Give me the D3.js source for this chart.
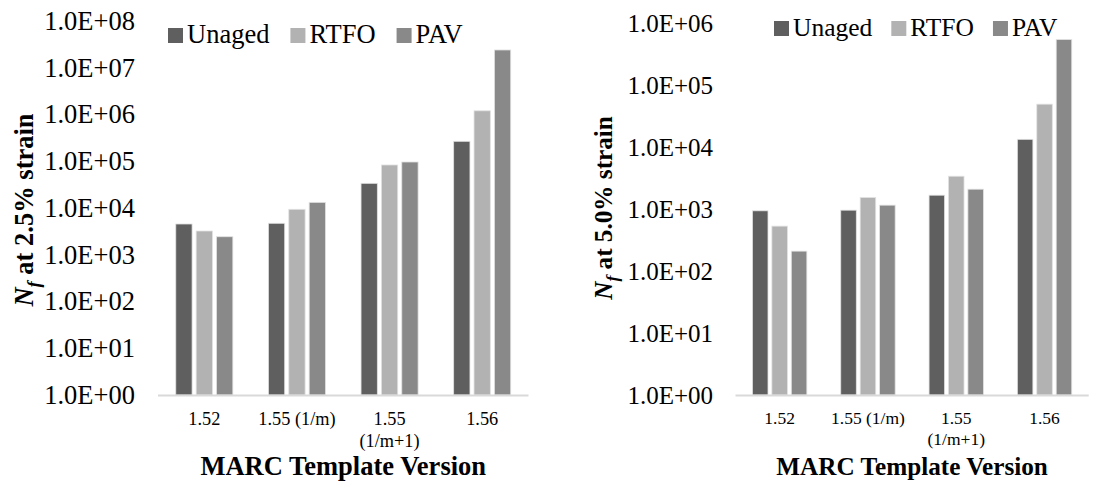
<!DOCTYPE html>
<html>
<head>
<meta charset="utf-8">
<script src="https://cdn.jsdelivr.net/npm/d3@7"></script>
<style>
  body { margin: 0; background: #fff; }
</style>
</head>
<body>
<svg id="chart" width="1108" height="488"></svg>
<script>
// categories and series
const categories = ["1.52", "1.55 (1/m)", "1.55 (1/m+1)", "1.56"];
const seriesNames = ["Unaged", "RTFO", "PAV"];

// Nf at 2.5% strain
const unaged25 = [4550, 4710, 33700, 267000];
const rtfo25 = [3220, 9380, 83200, 1200000];
const pav25 = [2430, 13200, 96400, 24000000];

// Nf at 5.0% strain
const unaged50 = [940, 963, 1680, 13400];
const rtfo50 = [532, 1540, 3400, 49500];
const pav50 = [210, 1160, 2100, 547000];

const ticks25 = [1e0, 1e1, 1e2, 1e3, 1e4, 1e5, 1e6, 1e7, 1e8];
const ticks50 = [1e0, 1e1, 1e2, 1e3, 1e4, 1e5, 1e6];

const colors = ["#5f5f5f", "#b2b2b2", "#898989"];
const serif = "Liberation Serif, Times New Roman, serif";

const svg = d3.select("#chart");
svg.append("rect").attr("width", 1108).attr("height", 488).attr("fill", "#fff");

function sci(v) {
    const e = Math.round(Math.log10(v));
    return `1.0E+${String(e).padStart(2, "0")}`;
}

function drawPanel(p) {
    const g = svg.append("g").attr("font-family", serif).attr("fill", "#000");
    const x = d3.scaleBand()
        .domain(categories)
        .range([p.left, p.right])
        .paddingInner(0.34)
        .paddingOuter(0.17);
    const xs = d3.scaleBand()
        .domain(seriesNames)
        .range([0, x.bandwidth()])
        .paddingInner(0.2)
        .paddingOuter(0.1);
    const y = d3.scaleLog()
        .domain([1, p.ticks[p.ticks.length - 1]])
        .range([p.bottom, p.top]);

    // y axis labels
    const yAxis = g.append("g")
        .attr("transform", `translate(${p.left},0)`)
        .call(d3.axisLeft(y).tickValues(p.ticks).tickFormat(sci).tickSize(0).tickPadding(p.tickPad));
    yAxis.select(".domain").remove();
    yAxis.attr("font-family", serif).attr("font-size", p.tickFont);
    yAxis.selectAll("text").attr("fill", "#000");

    // bars
    const rows = categories.map((c, i) => ({cat: c, vals: p.values.map(s => s[i])}));
    const grp = g.selectAll(".grp")
        .data(rows)
        .enter()
        .append("g")
        .attr("transform", d => `translate(${x(d.cat)},0)`);
    grp.selectAll("rect")
        .data(d => d.vals.map((v, k) => ({name: seriesNames[k], v: v, k: k})))
        .enter()
        .append("rect")
        .attr("x", d => xs(d.name))
        .attr("width", xs.bandwidth())
        .attr("y", d => y(d.v))
        .attr("height", d => y(1) - y(d.v))
        .attr("fill", d => colors[d.k])
        .attr("stroke", "#e2e2e2")
        .attr("stroke-width", 0.8);

    // baseline
    g.append("line")
        .attr("x1", p.left)
        .attr("x2", p.right)
        .attr("y1", y(1) + 0.5)
        .attr("y2", y(1) + 0.5)
        .attr("stroke", "#d9d9d9")
        .attr("stroke-width", 2);

    // category labels, wrapped when wider than the band step
    categories.forEach(c => {
        const cx = x(c) + x.bandwidth() / 2;
        const t = g.append("text")
            .attr("x", cx)
            .attr("y", p.catY)
            .attr("text-anchor", "middle")
            .attr("font-size", p.catFont)
            .text(c);
        if (t.node().getComputedTextLength() > x.step()) {
            const words = c.split(" ");
            t.text(words[0]);
            g.append("text")
                .attr("x", cx)
                .attr("y", p.catY + p.catFont * 1.2)
                .attr("text-anchor", "middle")
                .attr("font-size", p.catFont)
                .text(words.slice(1).join(" "));
        }
    });

    // x title
    g.append("text")
        .attr("x", (p.left + p.right) / 2)
        .attr("y", p.xTitleY)
        .attr("text-anchor", "middle")
        .attr("font-weight", "bold")
        .attr("font-size", p.titleFont)
        .text("MARC Template Version");

    // y title
    const yt = g.append("text")
        .attr("transform", `translate(${p.yTitleX},${p.yTitleY}) rotate(-90)`)
        .attr("text-anchor", "middle")
        .attr("font-weight", "bold")
        .attr("font-size", p.titleFont);
    yt.append("tspan").attr("font-style", "italic").text("N");
    yt.append("tspan").attr("font-style", "italic").attr("font-size", p.titleFont * 0.7).attr("dy", p.titleFont * 0.25).text("f");
    yt.append("tspan").attr("dy", -p.titleFont * 0.25).text(` at ${p.strain} strain`);

    // legend
    let lx = p.legendX;
    seriesNames.forEach((s, k) => {
        g.append("rect")
            .attr("x", lx)
            .attr("y", p.legendY - 15)
            .attr("width", 15)
            .attr("height", 15)
            .attr("fill", colors[k]);
        const t = g.append("text")
            .attr("x", lx + 19)
            .attr("y", p.legendY)
            .attr("font-size", p.legendFont)
            .text(s);
        lx += 19 + t.node().getComputedTextLength() + p.legendGap;
    });
}

drawPanel({
    values: [unaged25, rtfo25, pav25], ticks: ticks25, strain: "2.5%",
    left: 158, right: 528.5, top: 21, bottom: 395,
    tickFont: 26.5, tickPad: 23, catFont: 18.3, catY: 425, titleFont: 26.5, xTitleY: 475,
    yTitleX: 33, yTitleY: 210, legendX: 168, legendY: 43, legendFont: 26.5, legendGap: 21
});

drawPanel({
    values: [unaged50, rtfo50, pav50], ticks: ticks50, strain: "5.0%",
    left: 735.5, right: 1088.7, top: 23.3, bottom: 395,
    tickFont: 25, tickPad: 22.5, catFont: 17.5, catY: 424, titleFont: 25.2, xTitleY: 475,
    yTitleX: 612, yTitleY: 208, legendX: 774, legendY: 36, legendFont: 25.5, legendGap: 19
});
</script>
</body>
</html>
